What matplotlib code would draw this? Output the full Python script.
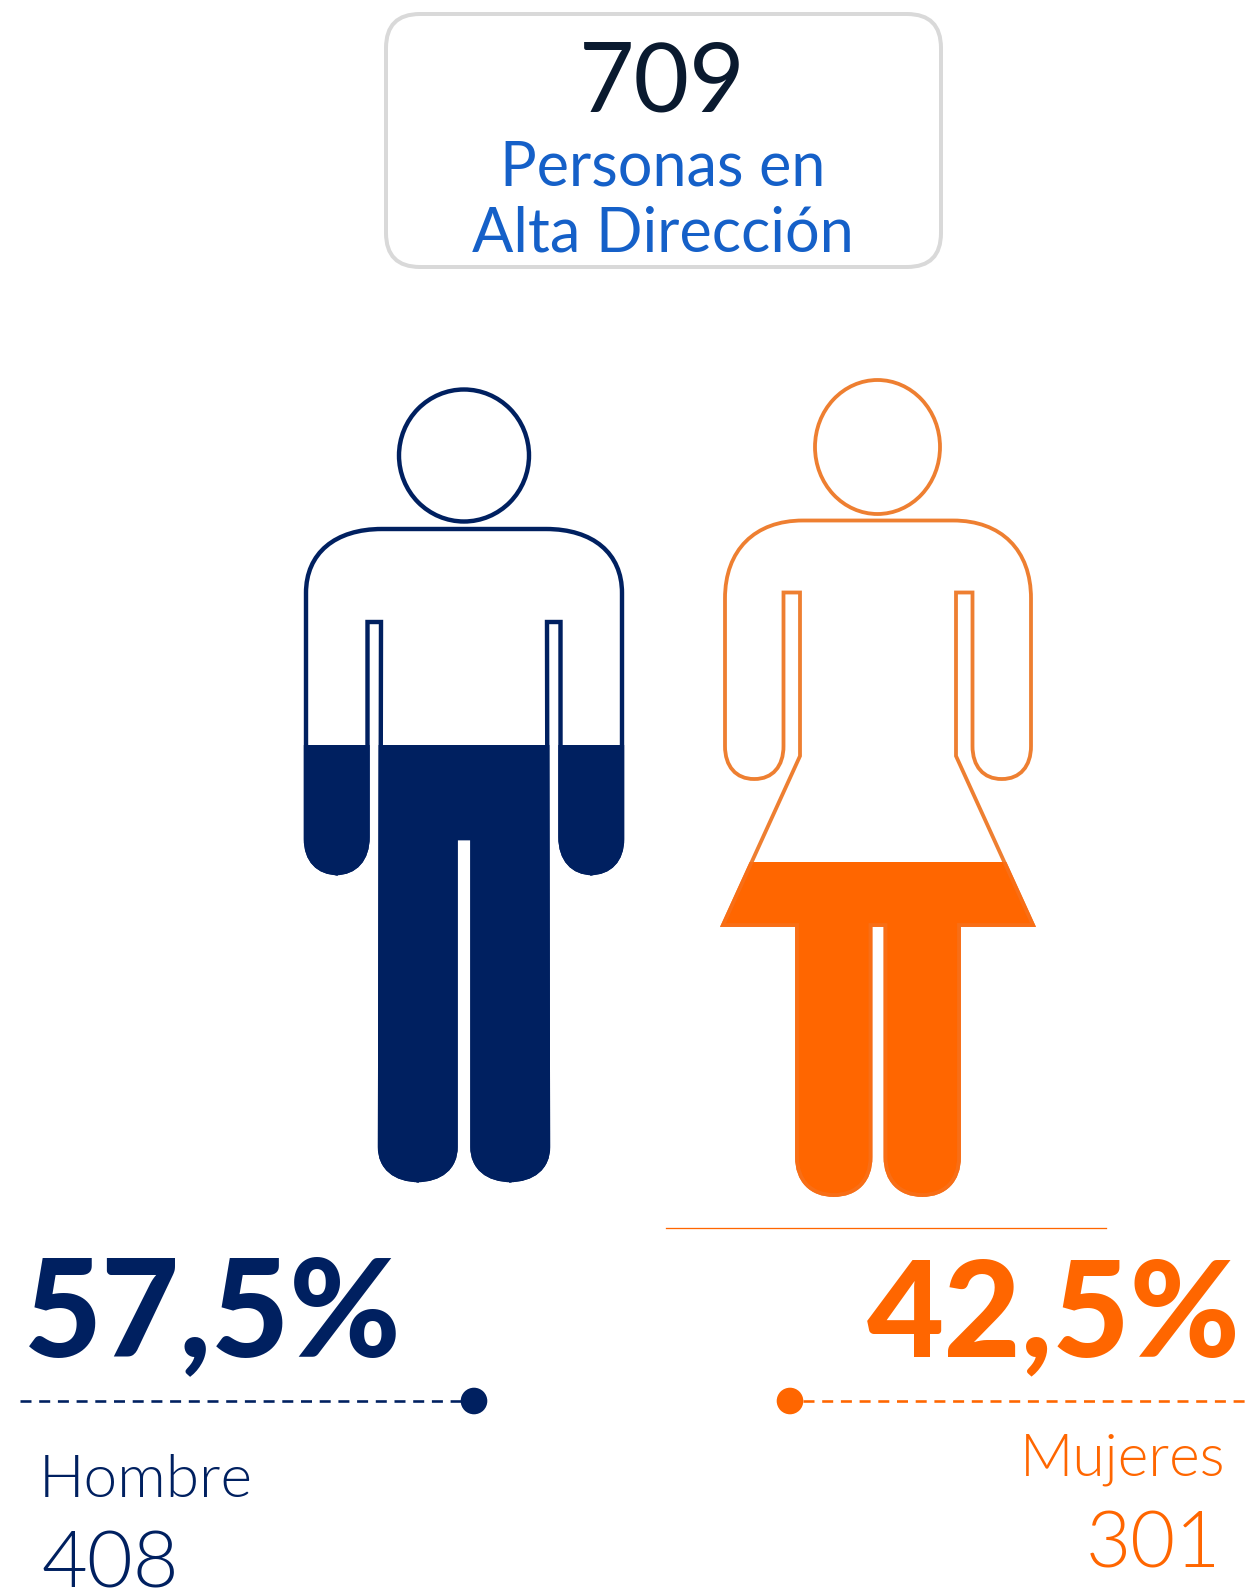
import matplotlib
matplotlib.use("Agg")
import matplotlib.pyplot as plt
from matplotlib.path import Path
from matplotlib.patches import PathPatch, Ellipse, FancyBboxPatch, Rectangle, Circle
import numpy as np

# ---- data ----
total_value = "709"
total_lines = ["Personas en", "Alta Dirección"]
genders = ["Hombre", "Mujeres"]
counts = [408, 301]
shares = [57.5, 42.5]
share_labels = ["57,5%", "42,5%"]

NAVY = "#002060"
ORANGE = "#FF6600"
ORANGE_LINE = "#EE7F31"
BLUE = "#1560C8"
INK = "#0A1A2F"

W, H = 1246, 1591
fig = plt.figure(figsize=(W / 100, H / 100), dpi=100, facecolor="white")
ax = fig.add_axes([0, 0, 1, 1])
ax.set_xlim(0, W)
ax.set_ylim(H, 0)
ax.axis("off")
PX = 0.72  # line widths: px -> pt


def rounded_path(pts):
    """pts: (x, y) or (x, y, r) or (x, y, r_in, r_out); closed outline with rounded vertices."""
    verts, codes = [], []
    n = len(pts)
    for i, p in enumerate(pts):
        v = np.array(p[:2], float)
        prev = np.array(pts[i - 1][:2], float)
        nxt = np.array(pts[(i + 1) % n][:2], float)
        if len(p) == 2:
            verts.append(v)
            codes.append(Path.MOVETO if i == 0 else Path.LINETO)
            continue
        r_in = p[2]
        r_out = p[3] if len(p) > 3 else p[2]
        a = v + r_in * (prev - v) / np.linalg.norm(prev - v)
        b = v + r_out * (nxt - v) / np.linalg.norm(nxt - v)
        verts.append(a)
        codes.append(Path.MOVETO if i == 0 else Path.LINETO)
        verts += [a + 0.62 * (v - a), b + 0.62 * (v - b), b]
        codes += [Path.CURVE4] * 3
    verts.append(verts[0])
    codes.append(Path.CLOSEPOLY)
    return Path(np.array(verts), codes)


def mirrored(half, cx):
    """half: outline of the left half from the top centre going down to the crotch."""
    right = [(2 * cx - p[0], p[1]) + tuple(p[2:][::-1]) for p in half[::-1]]
    return half + right


man_half = [
    (464, 529),
    (306, 529, 76, 64),
    (306, 873, 34, 32),
    (367.5, 873, 32, 36),
    (367.5, 622),
    (381, 622),
    (380, 1180, 33, 39),
    (455.5, 1180, 39, 33),
    (455.5, 838),
]
woman_half = [
    (878, 520.5),
    (725, 520.5, 78, 78),
    (725, 779, 33, 29),
    (783.5, 779, 29, 33),
    (783.5, 592.5),
    (800, 592.5),
    (800, 756),
    (723, 925),
    (797, 925),
    (797, 1195, 38, 37),
    (870.5, 1195, 37, 38),
    (870.5, 925),
]

figures = [
    dict(half=man_half, cx=464, head=(464, 455.5, 130, 132), line=NAVY, fill=NAVY, edge=NAVY, lw=4.4,
         base=1181, full=423),
    dict(half=woman_half, cx=878, head=(877.5, 447, 125, 134), line=ORANGE_LINE, fill=ORANGE, edge="#F86E16", lw=3.8,
         base=1196, full=409),
]

for fg, share in zip(figures, shares):
    path = rounded_path(mirrored(fg["half"], fg["cx"]))
    level = fg["base"] + (fg["full"] - fg["base"]) * share / 100
    ax.add_patch(PathPatch(path, facecolor="white", edgecolor=fg["line"], lw=fg["lw"] * PX, zorder=2,
                           joinstyle="miter"))
    solid = PathPatch(path, facecolor=fg["fill"], edgecolor=fg["edge"], lw=fg["lw"] * PX, zorder=3,
                      joinstyle="miter")
    ax.add_patch(solid)
    window = Rectangle((0, level), W, H - level, facecolor="none", edgecolor="none", transform=ax.transData)
    ax.add_patch(window)
    solid.set_clip_path(window)
    hx, hy, hw, hh = fg["head"]
    ax.add_patch(Ellipse((hx, hy), hw, hh, facecolor="white", edgecolor=fg["line"], lw=fg["lw"] * PX, zorder=4))

# ---- title box ----
ax.add_patch(FancyBboxPatch((386 + 34, 14 + 34), 555 - 68, 253 - 68,
                            boxstyle="round,pad=34,rounding_size=34",
                            facecolor="white", edgecolor="#D9D9D9", lw=4 * PX, zorder=1))

LIGHT = dict(family=["Lato", "DejaVu Sans"], weight=300)
REG = dict(family=["Lato", "DejaVu Sans"], weight="normal")
BOLD = dict(family=["Lato", "DejaVu Sans"], weight="black")

ax.text(662, 111, total_value, ha="center", va="baseline", fontsize=69, color=INK, zorder=5, **REG)
ax.text(663, 186, total_lines[0], ha="center", va="baseline", fontsize=44, color=BLUE, zorder=5, **REG)
ax.text(663, 251, total_lines[1], ha="center", va="baseline", fontsize=44, color=BLUE, zorder=5, **REG)

# ---- left block ----
ax.text(24, 1356, share_labels[0], ha="left", va="baseline", fontsize=97, color=NAVY, zorder=5, **BOLD)
ax.plot([20, 462], [1401, 1401], color=NAVY, lw=2.6 * PX, dashes=(11 / 2.6, 7.7 / 2.6), zorder=5)
ax.add_patch(Circle((474, 1401), 13.3, color=NAVY, lw=0, zorder=6))
ax.text(39, 1497, genders[0], ha="left", va="baseline", fontsize=43.5, color=NAVY, zorder=5, **LIGHT)
ax.text(41, 1588, str(counts[0]), ha="left", va="baseline", fontsize=57, color=NAVY, zorder=5, **LIGHT)

# ---- right block ----
ax.plot([666, 1106], [1228, 1228], color=ORANGE, lw=1.3 * PX, zorder=5)
ax.text(1241, 1356, share_labels[1], ha="right", va="baseline", fontsize=96, color=ORANGE, zorder=5, **BOLD)
ax.plot([803, 1246], [1401, 1401], color=ORANGE, lw=2.6 * PX, dashes=(11 / 2.6, 7.7 / 2.6), zorder=5)
ax.add_patch(Circle((790, 1401), 13.3, color=ORANGE, lw=0, zorder=6))
ax.text(1225, 1476, genders[1], ha="right", va="baseline", fontsize=42.3, color=ORANGE, zorder=5, **LIGHT)
ax.text(1221, 1567, str(counts[1]), ha="right", va="baseline", fontsize=56, color=ORANGE, zorder=5, **LIGHT)

fig.savefig("out.png", dpi=100, facecolor="white")
